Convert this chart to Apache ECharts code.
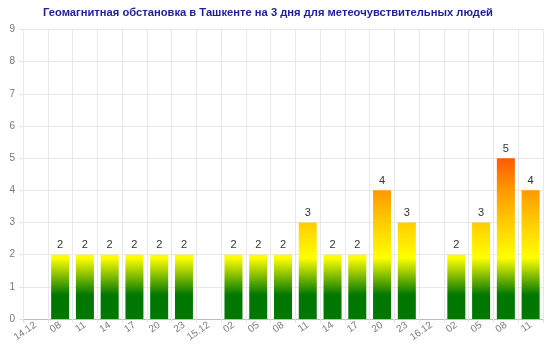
<!DOCTYPE html>
<html><head><meta charset="utf-8">
<script src="https://cdn.jsdelivr.net/npm/echarts@6/dist/echarts.min.js"></script>
<style>html,body{margin:0;padding:0;background:#fff}#c{width:560px;height:349px}</style>
</head><body><div id="c"></div>
<script>
const titleText = 'Геомагнитная обстановка в Ташкенте на 3 дня для метеочувствительных людей';
const categories = ['14.12','08','11','14','17','20','23','15.12','02','05','08','11','14','17','20','23','16.12','02','05','08','11'];
const kpValues = [null,2,2,2,2,2,2,null,2,2,2,3,2,2,4,3,null,2,3,5,4];
const yTicks = [0,1,2,3,4,5,6,7,8,9];

// colour scale by absolute value
const scaleStops = [[0,'#007800'],[0.75,'#007800'],[1.9,'#ffff00'],[3,'#ffcc00'],[4,'#ff9900'],[5,'#ff5a00'],[9,'#ff0000']];
function hex2rgb(h){return [1,3,5].map(i=>parseInt(h.substr(i,2),16));}
function colorAt(v){
  for(let i=1;i<scaleStops.length;i++){
    if(v<=scaleStops[i][0]){
      const [s0,c0]=scaleStops[i-1],[s1,c1]=scaleStops[i];
      const t=(v-s0)/(s1-s0);const a=hex2rgb(c0),b=hex2rgb(c1);
      return 'rgb('+a.map((x,k)=>Math.round(x+(b[k]-x)*t)).join(',')+')';
    }
  }
  return scaleStops[scaleStops.length-1][1];
}
function gradFor(v){
  const stops=[{offset:0,color:colorAt(v)}];
  scaleStops.forEach(([s,c])=>{ if(s<v) stops.push({offset:1-s/v,color:c}); });
  stops.sort((a,b)=>a.offset-b.offset);
  return new echarts.graphic.LinearGradient(0,0,0,1,stops);
}
const barData = kpValues.map(v=> v==null ? '-' : {value:v,itemStyle:{color:gradFor(v)}});

const chart = echarts.init(document.getElementById('c'),null,{renderer:'canvas'});
chart.setOption({
  animation:false,
  title:{text:titleText,left:38,top:2,textStyle:{color:'#1e1e96',fontSize:11.2,fontWeight:'bold',fontFamily:'Liberation Sans, Arial, sans-serif'}},
  grid:{left:23,right:17,top:29.5,bottom:30},
  xAxis:{type:'category',data:categories,boundaryGap:true,
    axisLine:{lineStyle:{color:'#bbbbbb'}},
    axisTick:{show:true,length:4,lineStyle:{color:'#e4e4e4'}},
    splitLine:{show:true,lineStyle:{color:'#e8e8e8'}},
    axisLabel:{rotate:35,color:'#777',fontSize:10,margin:5,fontFamily:'Liberation Sans, Arial, sans-serif'}},
  yAxis:{type:'value',min:yTicks[0],max:yTicks[yTicks.length-1],interval:1,
    axisLine:{show:false},
    axisTick:{show:true,length:4,lineStyle:{color:'#e4e4e4'}},
    splitLine:{lineStyle:{color:'#e8e8e8'}},
    axisLabel:{color:'#777',fontSize:10,margin:8,fontFamily:'Liberation Sans, Arial, sans-serif'}},
  series:[{type:'bar',data:barData,barWidth:18,
    label:{show:true,position:'top',distance:4,color:'#333',fontSize:11,fontFamily:'Liberation Sans, Arial, sans-serif'}}]
});
</script></body></html>
